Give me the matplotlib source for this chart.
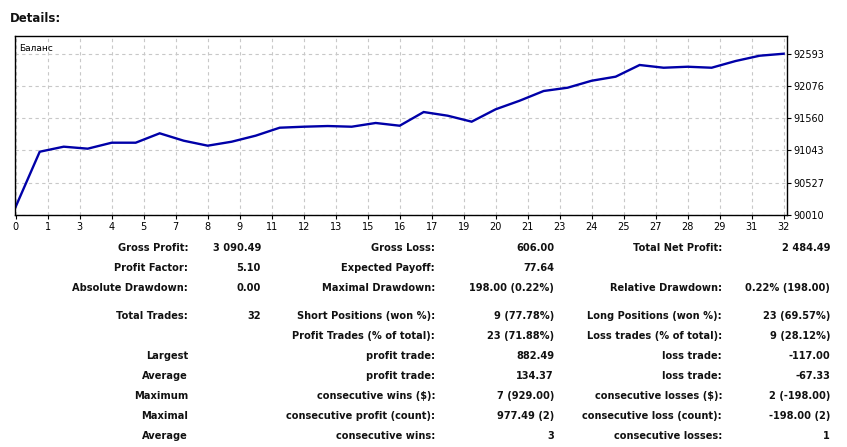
import matplotlib
matplotlib.use("Agg")
import matplotlib.pyplot as plt
import numpy as np

# balance after each trade
trades = list(range(33))
balance = [90139, 91022, 91103, 91071, 91167, 91167, 91318, 91199, 91119, 91183,
           91280, 91408, 91424, 91435, 91424, 91484, 91440, 91660, 91601, 91505,
           91704, 91842, 91998, 92051, 92163, 92228, 92416, 92372, 92388, 92372,
           92480, 92565, 92597]

y_ticks = [90010, 90527, 91043, 91560, 92076, 92593]
x_ticks = [k * 4 / 3 for k in range(25)]
x_labels = [str(int(round(t))) for t in x_ticks]

# report table: (label, value) per column, one list per row
rows = [
    [("Gross Profit:", "3 090.49"), ("Gross Loss:", "606.00"), ("Total Net Profit:", "2 484.49")],
    [("Profit Factor:", "5.10"), ("Expected Payoff:", "77.64"), ("", "")],
    [("Absolute Drawdown:", "0.00"), ("Maximal Drawdown:", "198.00 (0.22%)"), ("Relative Drawdown:", "0.22% (198.00)")],
    [("Total Trades:", "32"), ("Short Positions (won %):", "9 (77.78%)"), ("Long Positions (won %):", "23 (69.57%)")],
    [("", ""), ("Profit Trades (% of total):", "23 (71.88%)"), ("Loss trades (% of total):", "9 (28.12%)")],
    [("Largest", ""), ("profit trade:", "882.49"), ("loss trade:", "-117.00")],
    [("Average", ""), ("profit trade:", "134.37"), ("loss trade:", "-67.33")],
    [("Maximum", ""), ("consecutive wins ($):", "7 (929.00)"), ("consecutive losses ($):", "2 (-198.00)")],
    [("Maximal", ""), ("consecutive profit (count):", "977.49 (2)"), ("consecutive loss (count):", "-198.00 (2)")],
    [("Average", ""), ("consecutive wins:", "3"), ("consecutive losses:", "1")],
]
row_y = [248, 268, 288, 316, 336, 356, 376, 396, 416, 436]
label_x = [188, 435, 722]
value_x = [261, 554, 830]

W, H = 847, 447
fig = plt.figure(figsize=(W / 100, H / 100), dpi=100)
fig.patch.set_facecolor("white")

fig.text(10 / W, 1 - 18 / H, "Details:", fontsize=8.5, fontweight="bold",
         family="DejaVu Sans", va="center", ha="left", color="#111111")

ax = fig.add_axes([15 / W, 1 - 215 / H, (786.5 - 15) / W, (215 - 36) / H])
ax.plot(trades, balance, color="#0000a8", lw=1.7, solid_joinstyle="miter")
ax.set_xlim(-0.03, 32.12)
ax.set_ylim(90005, 92882)
ax.set_xticks(x_ticks)
ax.set_xticklabels(x_labels)
ax.set_yticks(y_ticks)
ax.set_yticklabels([str(v) for v in y_ticks])
ax.yaxis.tick_right()
ax.tick_params(axis="both", length=3, width=0.8, color="black", labelsize=7,
               pad=2, direction="out")
ax.grid(True, color="#c8c8c8", linestyle=(0, (3, 3)), lw=0.8)
for s in ax.spines.values():
    s.set_color("black")
    s.set_linewidth(1)
ax.text(0.005, 0.955, "Баланс", transform=ax.transAxes, fontsize=6.5,
        va="top", ha="left", color="black")

for r, y in zip(rows, row_y):
    for c, (lab, val) in enumerate(r):
        if lab:
            fig.text(label_x[c] / W, 1 - y / H, lab, fontsize=7.1, fontweight="bold",
                     ha="right", va="center", color="#111111", family="DejaVu Sans")
        if val:
            fig.text(value_x[c] / W, 1 - y / H, val, fontsize=7.1, fontweight="bold",
                     ha="right", va="center", color="#111111", family="DejaVu Sans")

fig.savefig("out.png", dpi=100, facecolor="white")
